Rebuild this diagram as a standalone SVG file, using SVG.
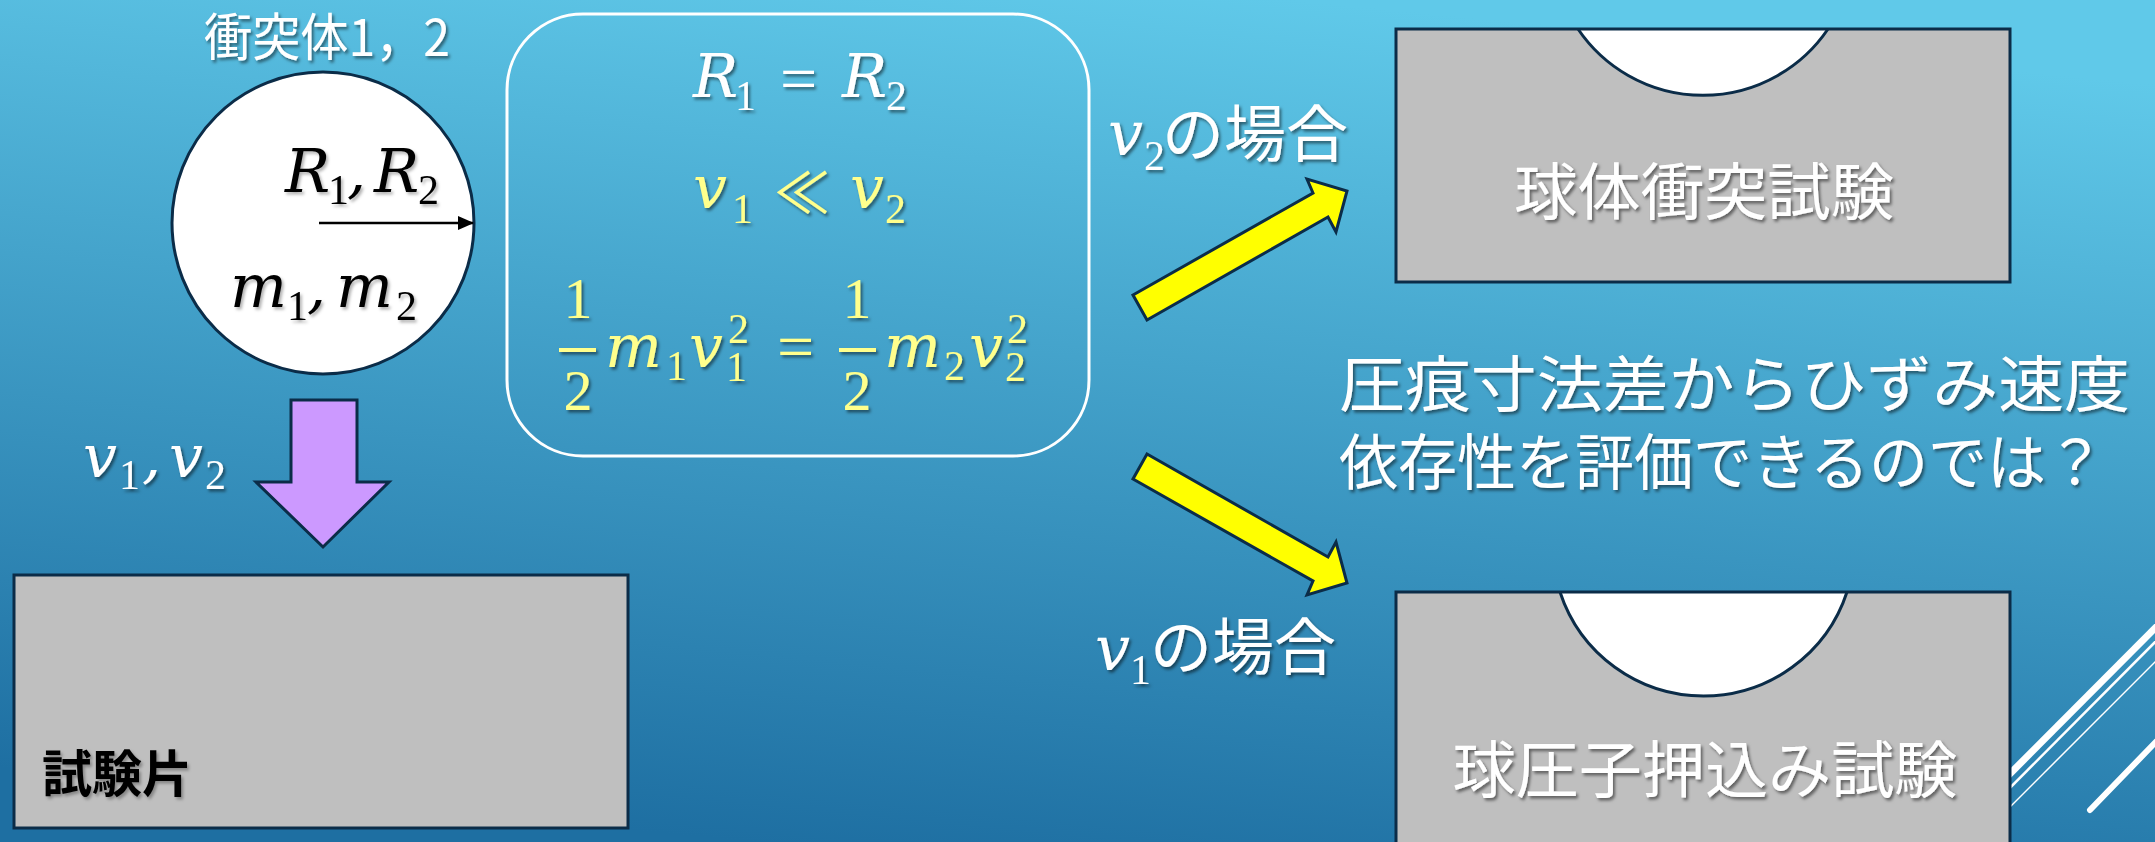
<svg xmlns="http://www.w3.org/2000/svg" width="2155" height="842" viewBox="0 0 2155 842">
<defs>
<linearGradient id="bg" x1="0.6" y1="0" x2="0.35" y2="1">
<stop offset="0" stop-color="#60c9e9"/>
<stop offset="1" stop-color="#1e6fa2"/>
</linearGradient>
<filter id="sh" x="-10%" y="-20%" width="130%" height="150%">
<feDropShadow dx="2" dy="2.5" stdDeviation="1.5" flood-color="#000" flood-opacity="0.5"/>
</filter>
<filter id="shk" x="-10%" y="-20%" width="130%" height="150%">
<feDropShadow dx="2" dy="2.5" stdDeviation="1.5" flood-color="#000" flood-opacity="0.3"/>
</filter>
<marker id="ah" viewBox="0 0 16 14" refX="15" refY="7" markerWidth="16" markerHeight="14" markerUnits="userSpaceOnUse" orient="auto">
<path d="M0,0 L16,7 L0,14 Z" fill="#000"/>
</marker>
<style>
.m{font-family:'DejaVu Serif','Liberation Serif',serif;font-style:italic}
.d{font-family:'Liberation Serif',serif;font-style:normal}
.j{font-family:'Noto Sans CJK JP','Noto Sans CJK SC',sans-serif}
.w{fill:#fff;filter:url(#sh)}
.y{fill:#ffff8c;filter:url(#sh)}
.k{fill:#000;filter:url(#shk)}
.ol{stroke:#0b2c48;stroke-width:3}
.gray{fill:#bfbfbf}
.deco{stroke:#fff;fill:none}
</style>
</defs>
<rect x="0" y="0" width="2155" height="842" fill="url(#bg)"/>
<g id="decoration">
<line class="deco" x1="2178" y1="605" x2="1950" y2="834" stroke-width="7"/>
<line class="deco" x1="2178" y1="619" x2="1960" y2="838" stroke-width="2.5"/>
<line class="deco" x1="2178" y1="639" x2="1975" y2="842" stroke-width="1.5"/>
<line class="deco" x1="2178" y1="719" x2="2090" y2="810" stroke-width="6" stroke-linecap="round"/>
</g>
<g id="title">
<text class="j w" x="204" y="56" font-size="51" textLength="246" lengthAdjust="spacingAndGlyphs">衝突体1，2</text>
</g>
<g id="ball">
<circle cx="323" cy="223" r="151" fill="#fff" class="ol"/>
<line x1="319" y1="223" x2="473" y2="223" stroke="#000" stroke-width="2.5" marker-end="url(#ah)"/>
<text class="k" font-size="60"><tspan class="m" x="285" y="192">R</tspan><tspan class="d" x="328" y="204" font-size="42">1</tspan><tspan class="m" x="347" y="192">,</tspan><tspan class="m" x="374" y="192">R</tspan><tspan class="d" x="418" y="204" font-size="42">2</tspan></text>
<text class="k" font-size="60"><tspan class="m" x="230" y="307">m</tspan><tspan class="d" x="287" y="320" font-size="42">1</tspan><tspan class="m" x="307" y="307">,</tspan><tspan class="m" x="336" y="307">m</tspan><tspan class="d" x="396" y="320" font-size="42">2</tspan></text>
</g>
<g id="velocity-label">
<text class="w" font-size="60"><tspan class="m" x="83" y="477">v</tspan><tspan class="d" x="119" y="489" font-size="42">1</tspan><tspan class="m" x="142" y="477">,</tspan><tspan class="m" x="169" y="477">v</tspan><tspan class="d" x="205" y="489" font-size="42">2</tspan></text>
</g>
<g id="specimen">
<rect x="14" y="575" width="614" height="253" class="gray ol"/>
<text class="j k" x="42" y="792" font-size="50" font-weight="bold">試験片</text>
</g>
<g id="conditions">
<rect x="507" y="14" width="582" height="442" rx="76" ry="76" fill="none" stroke="#fff" stroke-width="3"/>
<text class="w" font-size="60"><tspan class="m" x="693" y="97">R</tspan><tspan class="d" x="735" y="110" font-size="42">1</tspan><tspan class="d" x="780" y="101" font-size="66">=</tspan><tspan class="m" x="842" y="97">R</tspan><tspan class="d" x="886" y="110" font-size="42">2</tspan></text>
<text class="y" font-size="60"><tspan class="m" x="693" y="208">v</tspan><tspan class="d" x="732" y="223" font-size="42">1</tspan><tspan class="j" x="774" y="213" font-size="56">≪</tspan><tspan class="m" x="850" y="208">v</tspan><tspan class="d" x="885" y="223" font-size="42">2</tspan></text>
<g class="y">
<text class="d" x="578" y="318" font-size="58" text-anchor="middle">1</text>
<rect x="559" y="348" width="37" height="4"/>
<text class="d" x="578" y="410" font-size="58" text-anchor="middle">2</text>
<text class="d" x="857" y="318" font-size="58" text-anchor="middle">1</text>
<rect x="839" y="348" width="37" height="4"/>
<text class="d" x="857" y="410" font-size="58" text-anchor="middle">2</text>
</g>
<text class="y" font-size="60"><tspan class="m" x="605" y="367">m</tspan><tspan class="d" x="666" y="380" font-size="42">1</tspan><tspan class="m" x="689" y="367">v</tspan><tspan class="d" x="728" y="343" font-size="42">2</tspan></text>
<text class="y d" x="726" y="381" font-size="42">1</text>
<text class="y d" x="777" y="369" font-size="66">=</text>
<text class="y" font-size="60"><tspan class="m" x="884" y="367">m</tspan><tspan class="d" x="944" y="380" font-size="42">2</tspan><tspan class="m" x="969" y="367">v</tspan><tspan class="d" x="1007" y="343" font-size="42">2</tspan></text>
<text class="y d" x="1005" y="381" font-size="42">2</text>
</g>
<g id="connectors">
<path d="M291,400 L357,400 L357,482 L389,482 L323,547 L256,482 L291,482 Z" fill="#cc99ff" class="ol" stroke-linejoin="miter"/>
<path d="M1133,295 L1313,193 L1307,179 L1347,191 L1336,232 L1328,217 L1147,320 Z" fill="#ffff00" class="ol"/>
<path d="M1133,479 L1313,581 L1307,595 L1347,583 L1336,542 L1328,557 L1147,454 Z" fill="#ffff00" class="ol"/>
</g>
<g id="label-v2">
<text class="w" font-size="62"><tspan class="m" x="1108" y="155">v</tspan><tspan class="d" x="1144" y="170" font-size="42">2</tspan></text>
<text class="j w" x="1162" y="157" font-size="62">の場合</text>
</g>
<g id="label-v1">
<text class="w" font-size="62"><tspan class="m" x="1095" y="670">v</tspan><tspan class="d" x="1130" y="684" font-size="42">1</tspan></text>
<text class="j w" x="1150" y="670" font-size="62">の場合</text>
</g>
<g id="impact-test">
<rect x="1396" y="29" width="614" height="253" class="gray"/>
<path d="M1578,29 A151,151 0 0 0 1828,29 Z" fill="#fff"/>
<path d="M1578,29 A151,151 0 0 0 1828,29" fill="none" class="ol"/>
<rect x="1396" y="29" width="614" height="253" fill="none" class="ol"/>
<text class="j w" x="1704" y="215" font-size="62" text-anchor="middle" textLength="380" lengthAdjust="spacingAndGlyphs">球体衝突試験</text>
</g>
<g id="indent-test">
<rect x="1396" y="592" width="614" height="270" class="gray"/>
<path d="M1560,592 A151,151 0 0 0 1847,592 Z" fill="#fff"/>
<path d="M1560,592 A151,151 0 0 0 1847,592" fill="none" class="ol"/>
<rect x="1396" y="592" width="614" height="270" fill="none" class="ol"/>
<text class="j w" x="1705" y="793" font-size="62" text-anchor="middle" textLength="505" lengthAdjust="spacingAndGlyphs">球圧子押込み試験</text>
</g>
<g id="question">
<text class="j w" x="1339" y="407" font-size="61" textLength="791" lengthAdjust="spacingAndGlyphs">圧痕寸法差からひずみ速度</text>
<text class="j w" x="1339" y="485" font-size="61" textLength="766" lengthAdjust="spacingAndGlyphs">依存性を評価できるのでは？</text>
</g>
</svg>
